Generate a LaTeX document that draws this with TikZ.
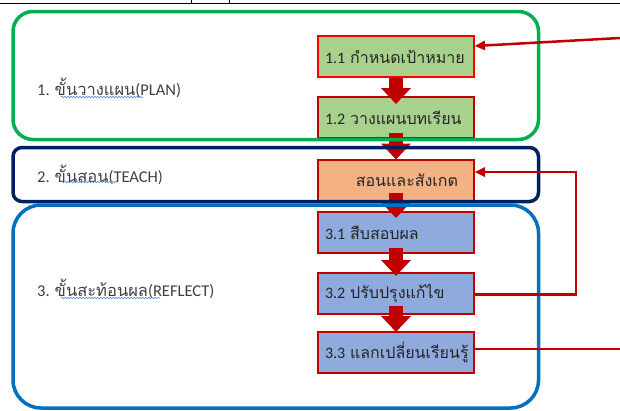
\documentclass[tikz,border=0pt]{standalone}
\usepackage{fontspec}
\newfontfamily\thai[Script=Thai]{Loma}
\newfontfamily\lat{Carlito}
\usetikzlibrary{arrows.meta,decorations.pathmorphing,calc}
\definecolor{frgreen}{HTML}{00B050}
\definecolor{frnavy}{HTML}{002060}
\definecolor{frblue}{HTML}{0070C0}
\definecolor{dred}{HTML}{C00000}
\definecolor{bred}{HTML}{FF0000}
\definecolor{fgreen}{HTML}{A9D18E}
\definecolor{forange}{HTML}{F4B183}
\definecolor{fblue}{HTML}{8FAADC}
\definecolor{txt}{HTML}{262626}
\definecolor{lbl}{HTML}{404040}
\definecolor{squig}{HTML}{5B8BD9}
\newcommand\boxtextL[1]{\makebox[142pt][l]{#1}}
\newcommand\boxtextR[1]{\makebox[142pt][r]{#1\kern9pt}}
\begin{document}
\begin{tikzpicture}[x=1pt,y=-1pt,
  stepbox/.style={draw=dred, line width=2pt, minimum width=156pt, minimum height=41pt,
    inner xsep=7pt, inner ysep=0pt,
    font=\fontsize{16}{19}\selectfont, text=txt},
  blockarrow/.style={draw=dred, line width=14pt, -{Triangle[length=16pt,width=30pt,line width=0pt]}},
  frame/.style={line width=3.5pt},
  fb/.style={draw=dred, line width=2.5pt, -{Triangle[length=10pt,width=10pt,line width=0pt]}},
  fbline/.style={draw=dred, line width=2.5pt},
  lblstyle/.style={inner sep=0pt, font=\fontsize{16.5}{19}\selectfont, text=lbl},
  squigline/.style={draw=squig, line width=0.6pt, decorate, decoration={snake, amplitude=0.8pt, segment length=3pt}}
]
\useasboundingbox (0,0) rectangle (620,410);
\fill[white] (0,0) rectangle (620,410);
% top rule
\draw[line width=1pt] (0,3) -- (620,3);
\draw[line width=1pt] (191,0) -- (191,3) (229,0) -- (229,3);

% boxes
\node[stepbox, draw=bred, fill=fgreen] (b11) at (396,56.5) {\boxtextL{{\lat 1.1} {\thai กำหนดเป้าหมาย}}};
\node[stepbox, fill=fgreen] (b12) at (396,117.5) {\boxtextL{{\lat 1.2} {\thai วางแผนบทเรียน}}};
\node[stepbox, fill=forange] (b2) at (396,180) {\boxtextR{\thai สอนและสังเกต}};
\node[stepbox, fill=fblue] (b31) at (396,232.5) {\boxtextL{{\lat 3.1} {\thai สืบสอบผล}}};
\node[stepbox, fill=fblue] (b32) at (396,293.5) {\boxtextL{{\lat 3.2} {\thai ปรับปรุงแก้ไข}}};
\node[stepbox, fill=fblue] (b33) at (396,352.5) {\boxtextL{{\lat 3.3} {\thai แลกเปลี่ยนเรียนรู้}}};

% block arrows
\draw[blockarrow] (b11.south) -- ([yshift=-8pt]b12.north);
\draw[blockarrow] ([yshift=6pt]b12.south) -- ([yshift=-1pt]b2.north);
\draw[blockarrow] ([yshift=9pt]b2.south) -- ([yshift=-7pt]b31.north);
\draw[blockarrow] ([yshift=6pt]b31.south) -- ([yshift=-4pt]b32.north);
\draw[blockarrow] ([yshift=9pt]b32.south) -- ([yshift=-1pt]b33.north);

% frames
\draw[frame, frgreen, rounded corners=20pt] (13,11.5) rectangle (538.5,139.5);
\draw[frame, frnavy, rounded corners=9pt] (13,147.5) rectangle (538.5,201.5);
\draw[frame, frblue, rounded corners=28pt] (13,205) rectangle (538.5,408);

% feedback connectors
\coordinate (in1) at (620,38);
\draw[fb] (in1) -- ([yshift=10.5pt]b11.east);
\coordinate (loop) at (576,172);
\draw[fb] ([yshift=-1pt]b32.east) -| (loop) -- ([yshift=8pt]b2.east);
\coordinate (out3) at (620,349);
\draw[fbline] ([yshift=3.5pt]b33.east) -- (out3);

% stage labels
\node[lblstyle, anchor=west] (l1) at (37,88) {{\lat 1. }{\thai ขั้นวางแผน}{\lat (PLAN)}};
\node[lblstyle, anchor=west] (l2) at (37,175) {{\lat 2. }{\thai ขั้นสอน}{\lat (TEACH)}};
\node[lblstyle, anchor=west] (l3) at (37,289) {{\lat 3. }{\thai ขั้นสะท้อนผล}{\lat (REFLECT)}};
\draw[squigline] (61,97) -- (143,97);
\draw[squigline] (61,182) -- (118,182);
\draw[squigline] (61,298) -- (160,298);
\end{tikzpicture}
\end{document}
